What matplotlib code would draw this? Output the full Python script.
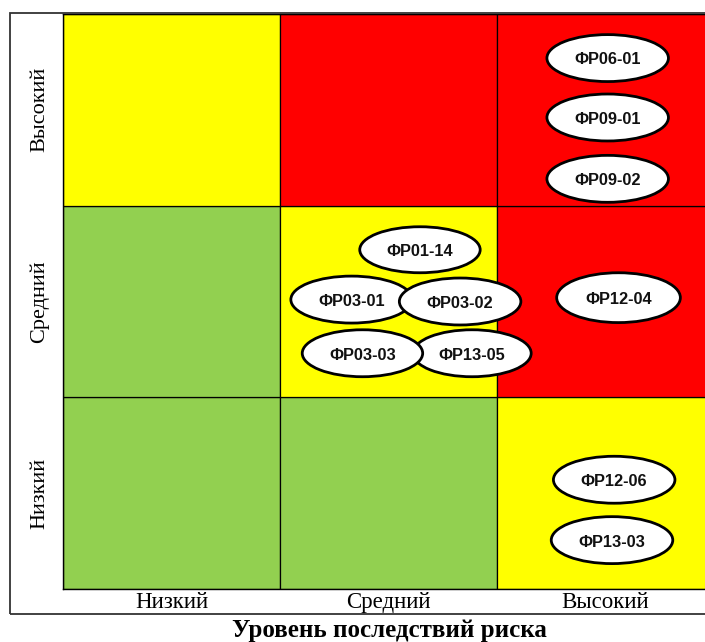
import matplotlib
matplotlib.use("Agg")
import matplotlib.pyplot as plt
from matplotlib.patches import Rectangle, Ellipse

# Data
levels = ["Низкий", "Средний", "Высокий"]
x_title = "Уровень последствий риска"
# cell colors: rows bottom->top (Низкий, Средний, Высокий), cols left->right
cell_colors = [
    ["#92D050", "#92D050", "#FFFF00"],
    ["#92D050", "#FFFF00", "#FF0000"],
    ["#FFFF00", "#FF0000", "#FF0000"],
]
risk_labels = ["ФР06-01", "ФР09-01", "ФР09-02", "ФР12-04", "ФР01-14",
               "ФР03-01", "ФР03-02", "ФР13-05", "ФР03-03", "ФР12-06", "ФР13-03"]
risk_x = [2.51, 2.51, 2.51, 2.56, 1.645, 1.33, 1.83, 1.885, 1.38, 2.54, 2.53]
risk_y = [2.77, 2.46, 2.14, 1.52, 1.77, 1.51, 1.50, 1.23, 1.23, 0.57, 0.255]
risk_w = [0.56, 0.56, 0.56, 0.57, 0.555, 0.56, 0.56, 0.545, 0.555, 0.56, 0.56]
risk_h = [0.245, 0.245, 0.245, 0.26, 0.24, 0.245, 0.245, 0.245, 0.245, 0.245, 0.245]

W, H = 705, 642
fig = plt.figure(figsize=(W / 100, H / 100), dpi=100)

# outer box
fig.patches.append(Rectangle((10 / W, (H - 614) / H), 720 / W, (614 - 13) / H,
                             transform=fig.transFigure, fill=False,
                             edgecolor="#333333", linewidth=1.3, zorder=0))

ax = fig.add_axes([63 / W, (H - 589) / H, 651 / W, (589 - 14) / H])
ax.set_xlim(0, 3)
ax.set_ylim(0, 3)

for r in range(3):
    for c in range(3):
        ax.add_patch(Rectangle((c, r), 1, 1, facecolor=cell_colors[r][c],
                               edgecolor="black", linewidth=0.9, zorder=1))

for i, (lab, x, y, w, h) in enumerate(zip(risk_labels, risk_x, risk_y, risk_w, risk_h)):
    ax.add_patch(Ellipse((x, y), w, h, facecolor="white", edgecolor="black",
                         linewidth=2.0, zorder=3 + i))
    ax.text(x, y - 0.01, lab, ha="center", va="center", fontsize=11.8,
            fontweight="bold", family="Liberation Sans", zorder=3 + i,
            color="#111111")

ax.set_xticks([0.5, 1.5, 2.5])
ax.set_xticklabels(levels, family="Liberation Serif", fontsize=16.5)
ax.set_yticks([0.5, 1.5, 2.5])
ax.set_yticklabels(levels, family="Liberation Serif", fontsize=16, rotation=90,
                   va="center")
ax.tick_params(axis="x", length=0, pad=2)
ax.tick_params(axis="y", length=0, pad=10)
for s in ax.spines.values():
    s.set_linewidth(1.0)

fig.text((63 + 326) / W, (H - 631) / H, x_title, ha="center", va="center",
         family="Liberation Serif", fontweight="bold", fontsize=18)

fig.savefig("out.png", dpi=100)
